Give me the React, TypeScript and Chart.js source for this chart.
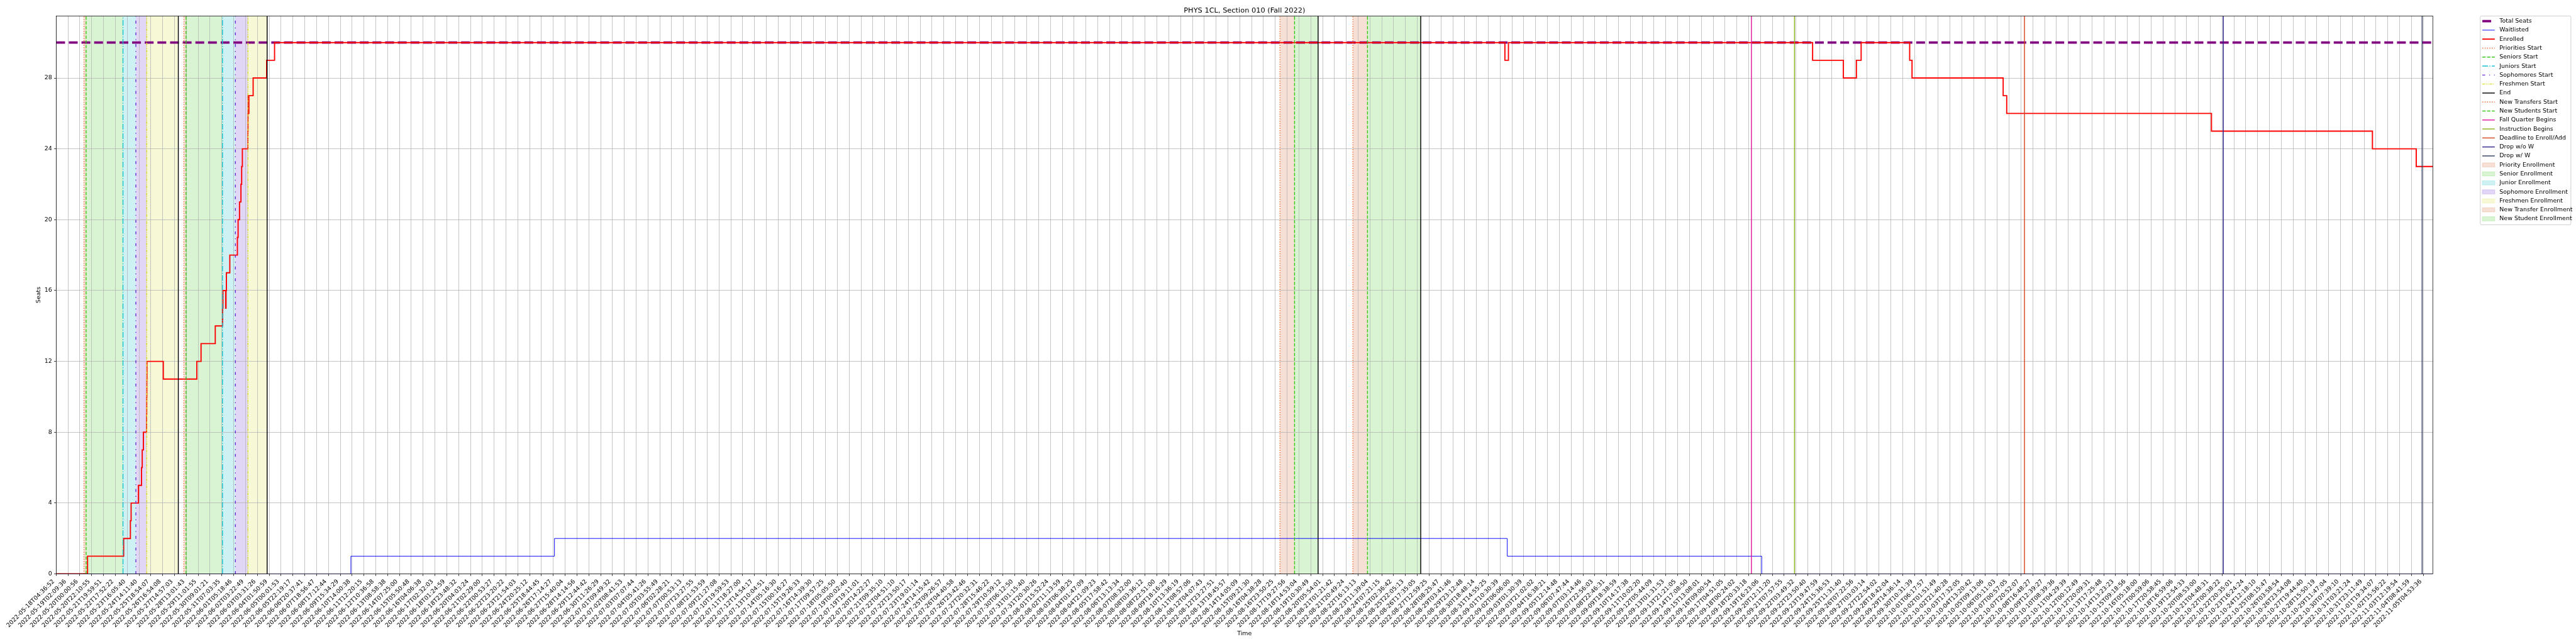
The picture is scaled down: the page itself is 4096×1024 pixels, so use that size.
import React, { useEffect, useRef } from "react";
import { Chart, registerables } from "chart.js";

Chart.register(...registerables);

const SCALE = 0.682;
const px = (v: number) => v * SCALE;
const FONT = "'DejaVu Sans', 'Liberation Sans', sans-serif";
const CANVAS_W = 4096;
const CANVAS_H = 1024;

const chartTitle = "PHYS 1CL, Section 010 (Fall 2022)";
const xAxisTitle = "Time";
const yAxisTitle = "Seats";

// tick labels (one per x tick, x tick k sits at position k)
const tickLabels = [
  "2022-05-18T04:36:52", "2022-05-19T02:09:36", "2022-05-20T00:00:56", "2022-05-20T22:10:55",
  "2022-05-21T19:59:51", "2022-05-22T17:52:22", "2022-05-23T16:05:40", "2022-05-24T14:11:40",
  "2022-05-25T18:54:07", "2022-05-26T16:54:08", "2022-05-27T14:57:03", "2022-05-28T13:01:43",
  "2022-05-29T11:01:55", "2022-05-30T09:01:21", "2022-05-31T07:03:35", "2022-06-01T05:18:46",
  "2022-06-02T03:22:49", "2022-06-03T03:31:26", "2022-06-04T01:50:59", "2022-06-05T00:01:53",
  "2022-06-05T22:19:17", "2022-06-06T20:37:41", "2022-06-07T18:56:47", "2022-06-08T17:12:44",
  "2022-06-09T15:34:29", "2022-06-10T14:00:38", "2022-06-11T12:20:15", "2022-06-12T10:36:58",
  "2022-06-13T08:58:38", "2022-06-14T07:25:00", "2022-06-15T05:50:48", "2022-06-16T04:06:38",
  "2022-06-17T02:32:03", "2022-06-18T01:24:59", "2022-06-18T23:48:32", "2022-06-20T04:03:24",
  "2022-06-21T02:29:00", "2022-06-22T00:53:27", "2022-06-22T23:20:22", "2022-06-23T21:54:03",
  "2022-06-24T20:25:12", "2022-06-25T18:44:45", "2022-06-26T17:14:27", "2022-06-27T15:40:04",
  "2022-06-28T14:14:56", "2022-06-29T12:44:42", "2022-06-30T11:26:29", "2022-07-01T09:49:32",
  "2022-07-02T08:41:53", "2022-07-03T07:07:44", "2022-07-04T05:41:26", "2022-07-05T03:55:49",
  "2022-07-06T02:28:21", "2022-07-07T00:53:13", "2022-07-07T23:27:55", "2022-07-08T21:53:59",
  "2022-07-09T21:27:08", "2022-07-10T19:59:53", "2022-07-11T18:27:00", "2022-07-12T14:54:17",
  "2022-07-13T10:04:51", "2022-07-14T05:16:30", "2022-07-15T00:16:27", "2022-07-15T19:26:33",
  "2022-07-16T14:39:30", "2022-07-17T09:57:25", "2022-07-18T05:05:50", "2022-07-19T00:02:40",
  "2022-07-19T19:11:01", "2022-07-20T14:22:27", "2022-07-21T09:35:10", "2022-07-22T04:51:10",
  "2022-07-22T23:50:17", "2022-07-23T19:01:14", "2022-07-24T14:15:42", "2022-07-25T09:26:57",
  "2022-07-26T04:40:58", "2022-07-26T23:42:46", "2022-07-27T20:32:31", "2022-07-28T15:46:22",
  "2022-07-29T10:59:12", "2022-07-30T06:12:50", "2022-07-31T01:15:40", "2022-07-31T20:30:26",
  "2022-08-01T15:52:24", "2022-08-02T11:13:59", "2022-08-03T06:38:25", "2022-08-04T01:47:09",
  "2022-08-04T21:09:23", "2022-08-05T17:58:42", "2022-08-06T13:13:34", "2022-08-07T08:32:00",
  "2022-08-08T03:36:12", "2022-08-08T22:51:00", "2022-08-09T18:16:29", "2022-08-10T13:36:19",
  "2022-08-11T08:57:06", "2022-08-12T04:07:43", "2022-08-12T23:27:51", "2022-08-13T18:45:57",
  "2022-08-14T14:05:09", "2022-08-15T09:21:30", "2022-08-16T04:38:28", "2022-08-16T23:50:25",
  "2022-08-17T19:27:56", "2022-08-18T14:53:04", "2022-08-19T10:30:49", "2022-08-20T05:54:01",
  "2022-08-21T01:21:42", "2022-08-21T20:49:24", "2022-08-22T16:13:13", "2022-08-23T11:39:04",
  "2022-08-24T07:21:15", "2022-08-25T02:36:42", "2022-08-25T22:05:13", "2022-08-26T17:35:05",
  "2022-08-27T12:59:25", "2022-08-28T08:25:47", "2022-08-29T03:41:46", "2022-08-29T23:12:48",
  "2022-08-30T18:48:14", "2022-08-31T14:55:25", "2022-09-01T10:30:39", "2022-09-02T06:06:00",
  "2022-09-03T01:30:39", "2022-09-03T21:02:02", "2022-09-04T16:38:21", "2022-09-05T12:14:48",
  "2022-09-06T07:47:44", "2022-09-07T03:14:46", "2022-09-07T22:56:03", "2022-09-08T22:46:31",
  "2022-09-09T18:38:59", "2022-09-10T14:17:38", "2022-09-11T10:02:20", "2022-09-12T05:44:09",
  "2022-09-13T01:31:53", "2022-09-13T21:21:05", "2022-09-14T17:08:50", "2022-09-15T13:08:01",
  "2022-09-16T09:00:54", "2022-09-17T04:51:05", "2022-09-18T00:24:02", "2022-09-18T20:33:18",
  "2022-09-19T16:23:06", "2022-09-20T12:11:20", "2022-09-21T07:57:55", "2022-09-22T03:49:32",
  "2022-09-22T23:50:40", "2022-09-23T19:47:59", "2022-09-24T15:36:53", "2022-09-25T11:31:40",
  "2022-09-26T07:22:56", "2022-09-27T03:03:14", "2022-09-27T22:54:02", "2022-09-28T18:42:04",
  "2022-09-29T14:36:14", "2022-09-30T10:31:39", "2022-10-01T06:17:57", "2022-10-02T01:51:49",
  "2022-10-02T21:40:28", "2022-10-03T17:32:05", "2022-10-04T13:20:42", "2022-10-05T09:13:06",
  "2022-10-06T05:11:03", "2022-10-07T00:57:05", "2022-10-07T20:52:07", "2022-10-08T16:48:27",
  "2022-10-09T12:39:27", "2022-10-10T08:39:36", "2022-10-11T04:29:39", "2022-10-12T00:12:49",
  "2022-10-12T20:09:31", "2022-10-13T17:25:48", "2022-10-14T13:23:23", "2022-10-15T09:18:56",
  "2022-10-16T05:18:00", "2022-10-17T00:59:06", "2022-10-17T20:58:45", "2022-10-18T16:59:06",
  "2022-10-19T12:54:33", "2022-10-20T08:53:00", "2022-10-21T04:48:31", "2022-10-22T00:38:22",
  "2022-10-22T20:35:01", "2022-10-23T16:24:24", "2022-10-24T12:18:10", "2022-10-25T08:15:47",
  "2022-10-26T03:58:54", "2022-10-26T23:54:08", "2022-10-27T19:44:40", "2022-10-28T15:50:19",
  "2022-10-29T11:47:04", "2022-10-30T07:39:10", "2022-10-31T03:21:24", "2022-10-31T23:11:49",
  "2022-11-01T19:34:07", "2022-11-02T15:56:22", "2022-11-03T12:19:54", "2022-11-04T08:41:59",
  "2022-11-05T04:53:36",
];

const xEnd = 200.8;
const yTop = 31.5;
const yTickValues = [0, 4, 8, 12, 16, 20, 24, 28];

// series (x in tick positions; each value holds until the next x)
const totalSeatsX = [0, 200.8];
const totalSeatsY = [30, 30];

const waitlistX = [0, 24.9, 42.1, 122.6, 144.1, 200.8];
const waitlistY = [0, 1, 2, 1, 0, 0];

const enrolledX = [
  0, 2.65, 5.7, 6.27, 6.33, 6.95, 7.21, 7.27, 7.37, 7.64, 7.65, 7.66, 7.67, 9.05, 11.88,
  12.24, 13.44, 14.06, 14.09, 14.32, 14.35, 14.38, 14.67, 15.31, 15.37, 15.49, 15.61, 15.67,
  15.73, 16.2, 16.21, 16.22, 16.25, 16.28, 16.64, 17.78, 18.45, 122.4, 122.7, 148.4, 151.0,
  152.1, 152.5, 156.6, 156.8, 164.5, 164.8, 182.1, 195.7, 199.4, 200.8,
];
const enrolledY = [
  0, 1, 2, 3, 4, 5, 6, 7, 8, 9, 10, 11, 12, 11, 12,
  13, 14, 15, 16, 15, 16, 17, 18, 19, 20, 21, 22, 23,
  24, 25, 26, 27, 26, 27, 28, 29, 30, 29, 30, 29, 28,
  29, 30, 29, 28, 27, 26, 25, 24, 23, 23,
];

// event markers (x in tick positions)
const prioritiesStart = [2.345, 10.79];
const seniorsStart = [2.526, 10.971];
const juniorsStart = [5.643, 14.052];
const sophomoresStart = [6.731, 15.14];
const freshmenStart = [7.648, 16.202];
const endMarks = [10.319, 17.822, 106.62, 115.29];
const newTransfersStart = [103.4, 109.56];
const newStudentsStart = [104.63, 110.79];
const fallQuarterBegins = [143.23];
const instructionBegins = [146.87];
const deadlineToAdd = [166.3];
const dropNoW = [183.1];
const dropWithW = [199.9];

// colors
const C = {
  total: "#800080",
  wait: "#0000ff",
  enrolled: "#ff0000",
  priority: "#ee6a30",
  senior: "#3cc81a",
  junior: "#14c2d0",
  sophomore: "#6a2ed8",
  freshmen: "#dcdc2c",
  end: "#000000",
  fall: "#e0139c",
  instruction: "#8cb41a",
  deadline: "#d4461e",
  dropNoW: "#2e248c",
  dropW: "#2f3b5c",
};
const SHADE = {
  priority: "rgba(210,100,45,0.2)",
  senior: "rgba(60,200,30,0.2)",
  junior: "rgba(10,190,200,0.2)",
  sophomore: "rgba(110,50,210,0.2)",
  freshmen: "rgba(215,225,50,0.2)",
};

const EV_LW = px(2.08);
const DOTTED = [px(2.08), px(3.44)];
const DASHED = [px(7.71), px(3.33)];
const DASHDOT = [px(13.3), px(3.33), px(2.08), px(3.33)];
const SOPH_DASH = [px(6.7), px(9.3), px(2.0), px(9.3)];
const FRESH_DASH = [px(6.25), px(2.08), px(2.08), px(2.08), px(2.08), px(2.08)];

type LineSpec = { xs: number[]; color: string; dash: number[]; width: number };
const eventLines: LineSpec[] = [
  { xs: prioritiesStart, color: C.priority, dash: DOTTED, width: EV_LW },
  { xs: seniorsStart, color: C.senior, dash: DASHED, width: EV_LW },
  { xs: juniorsStart, color: C.junior, dash: DASHDOT, width: EV_LW },
  { xs: sophomoresStart, color: C.sophomore, dash: SOPH_DASH, width: EV_LW },
  { xs: freshmenStart, color: C.freshmen, dash: FRESH_DASH, width: EV_LW },
  { xs: endMarks, color: C.end, dash: [], width: EV_LW },
  { xs: newTransfersStart, color: C.priority, dash: DOTTED, width: EV_LW },
  { xs: newStudentsStart, color: C.senior, dash: DASHED, width: EV_LW },
  { xs: fallQuarterBegins, color: C.fall, dash: [], width: EV_LW },
  { xs: instructionBegins, color: C.instruction, dash: [], width: EV_LW },
  { xs: deadlineToAdd, color: C.deadline, dash: [], width: EV_LW },
  { xs: dropNoW, color: C.dropNoW, dash: [], width: EV_LW },
  { xs: dropWithW, color: C.dropW, dash: [], width: EV_LW },
];

const spans: { from: number; to: number; color: string }[] = [];
prioritiesStart.forEach((s, i) => spans.push({ from: s, to: seniorsStart[i], color: SHADE.priority }));
seniorsStart.forEach((s, i) => spans.push({ from: s, to: juniorsStart[i], color: SHADE.senior }));
juniorsStart.forEach((s, i) => spans.push({ from: s, to: sophomoresStart[i], color: SHADE.junior }));
sophomoresStart.forEach((s, i) => spans.push({ from: s, to: freshmenStart[i], color: SHADE.sophomore }));
freshmenStart.forEach((s, i) => spans.push({ from: s, to: endMarks[i], color: SHADE.freshmen }));
newTransfersStart.forEach((s, i) => spans.push({ from: s, to: newStudentsStart[i], color: SHADE.priority }));
newStudentsStart.forEach((s, i) => spans.push({ from: s, to: endMarks[i + 2], color: SHADE.senior }));

type LegendItem = { label: string; kind: "line" | "patch"; color: string; width?: number; dash?: number[] };
const legendItems: LegendItem[] = [
  { label: "Total Seats", kind: "line", color: C.total, width: px(5.56), dash: [px(20.6), px(8.9)] },
  { label: "Waitlisted", kind: "line", color: C.wait, width: px(1.39), dash: [] },
  { label: "Enrolled", kind: "line", color: C.enrolled, width: px(2.78), dash: [] },
  { label: "Priorities Start", kind: "line", color: C.priority, width: EV_LW, dash: DOTTED },
  { label: "Seniors Start", kind: "line", color: C.senior, width: EV_LW, dash: DASHED },
  { label: "Juniors Start", kind: "line", color: C.junior, width: EV_LW, dash: DASHDOT },
  { label: "Sophomores Start", kind: "line", color: C.sophomore, width: EV_LW, dash: SOPH_DASH },
  { label: "Freshmen Start", kind: "line", color: C.freshmen, width: EV_LW, dash: FRESH_DASH },
  { label: "End", kind: "line", color: C.end, width: EV_LW, dash: [] },
  { label: "New Transfers Start", kind: "line", color: C.priority, width: EV_LW, dash: DOTTED },
  { label: "New Students Start", kind: "line", color: C.senior, width: EV_LW, dash: DASHED },
  { label: "Fall Quarter Begins", kind: "line", color: C.fall, width: EV_LW, dash: [] },
  { label: "Instruction Begins", kind: "line", color: C.instruction, width: EV_LW, dash: [] },
  { label: "Deadline to Enroll/Add", kind: "line", color: C.deadline, width: EV_LW, dash: [] },
  { label: "Drop w/o W", kind: "line", color: C.dropNoW, width: EV_LW, dash: [] },
  { label: "Drop w/ W", kind: "line", color: C.dropW, width: EV_LW, dash: [] },
  { label: "Priority Enrollment", kind: "patch", color: SHADE.priority },
  { label: "Senior Enrollment", kind: "patch", color: SHADE.senior },
  { label: "Junior Enrollment", kind: "patch", color: SHADE.junior },
  { label: "Sophomore Enrollment", kind: "patch", color: SHADE.sophomore },
  { label: "Freshmen Enrollment", kind: "patch", color: SHADE.freshmen },
  { label: "New Transfer Enrollment", kind: "patch", color: SHADE.priority },
  { label: "New Student Enrollment", kind: "patch", color: SHADE.senior },
];

const overlayPlugin = {
  id: "overlay",
  beforeDraw(chart: any) {
    const { ctx, chartArea } = chart;
    const xs = chart.scales.x;
    ctx.save();
    ctx.fillStyle = "#ffffff";
    ctx.fillRect(0, 0, chart.width, chart.height);
    for (const s of spans) {
      const a = xs.getPixelForValue(s.from);
      const b = xs.getPixelForValue(s.to);
      ctx.fillStyle = s.color;
      ctx.fillRect(a, chartArea.top, b - a, chartArea.bottom - chartArea.top);
    }
    ctx.restore();
  },
  afterDatasetsDraw(chart: any) {
    const { ctx, chartArea } = chart;
    const xs = chart.scales.x;
    ctx.save();
    ctx.beginPath();
    ctx.rect(chartArea.left, chartArea.top, chartArea.right - chartArea.left, chartArea.bottom - chartArea.top);
    ctx.clip();
    for (const l of eventLines) {
      ctx.strokeStyle = l.color;
      ctx.lineWidth = l.width;
      ctx.setLineDash(l.dash);
      ctx.lineCap = "butt";
      for (const v of l.xs) {
        const x = xs.getPixelForValue(v);
        ctx.beginPath();
        ctx.moveTo(x, chartArea.bottom);
        ctx.lineTo(x, chartArea.top);
        ctx.stroke();
      }
    }
    ctx.restore();
  },
  afterDraw(chart: any) {
    const { ctx, chartArea } = chart;
    ctx.save();
    // frame
    ctx.setLineDash([]);
    ctx.strokeStyle = "#000000";
    ctx.lineWidth = px(1.11);
    ctx.strokeRect(chartArea.left, chartArea.top, chartArea.right - chartArea.left, chartArea.bottom - chartArea.top);
    const midX = (chartArea.left + chartArea.right) / 2;
    // title
    ctx.fillStyle = "#000000";
    ctx.font = `${px(16.67)}px ${FONT}`;
    ctx.textAlign = "center";
    ctx.textBaseline = "alphabetic";
    ctx.fillText(chartTitle, midX, chartArea.top - px(8.33));
    // axis titles
    ctx.font = `${px(13.89)}px ${FONT}`;
    ctx.textBaseline = "middle";
    ctx.fillText(xAxisTitle, midX, px(1477));
    ctx.save();
    ctx.translate(px(90), (chartArea.top + chartArea.bottom) / 2);
    ctx.rotate(-Math.PI / 2);
    ctx.fillText(yAxisTitle, 0, 0);
    ctx.restore();
    // legend
    const lx = px(5782.7);
    const ly = px(37.3);
    const lw = px(5994 - 5782.7);
    const lh = px(524 - 37.3);
    ctx.beginPath();
    const r = px(2.8);
    ctx.moveTo(lx + r, ly);
    ctx.lineTo(lx + lw - r, ly);
    ctx.quadraticCurveTo(lx + lw, ly, lx + lw, ly + r);
    ctx.lineTo(lx + lw, ly + lh - r);
    ctx.quadraticCurveTo(lx + lw, ly + lh, lx + lw - r, ly + lh);
    ctx.lineTo(lx + r, ly + lh);
    ctx.quadraticCurveTo(lx, ly + lh, lx, ly + lh - r);
    ctx.lineTo(lx, ly + r);
    ctx.quadraticCurveTo(lx, ly, lx + r, ly);
    ctx.closePath();
    ctx.fillStyle = "rgba(255,255,255,0.8)";
    ctx.fill();
    ctx.strokeStyle = "#cccccc";
    ctx.lineWidth = px(1.39);
    ctx.stroke();
    const hx0 = px(5787.5);
    const hx1 = px(5816.5);
    ctx.font = `${px(13.89)}px ${FONT}`;
    ctx.textAlign = "left";
    ctx.textBaseline = "middle";
    legendItems.forEach((it, i) => {
      const cy = px(49.3 + i * 20.95);
      if (it.kind === "line") {
        ctx.strokeStyle = it.color;
        ctx.lineWidth = it.width || 1;
        ctx.setLineDash(it.dash || []);
        ctx.lineCap = "butt";
        ctx.beginPath();
        ctx.moveTo(hx0, cy);
        ctx.lineTo(hx1, cy);
        ctx.stroke();
        ctx.setLineDash([]);
      } else {
        const h = px(9.7);
        ctx.fillStyle = it.color;
        ctx.fillRect(hx0, cy - h / 2, hx1 - hx0, h);
        ctx.strokeStyle = it.color;
        ctx.lineWidth = px(1.39);
        ctx.strokeRect(hx0, cy - h / 2, hx1 - hx0, h);
      }
      ctx.fillStyle = "#000000";
      ctx.fillText(it.label, px(5827.3), cy);
    });
    ctx.restore();
  },
};

export default function App() {
  const ref = useRef<HTMLCanvasElement | null>(null);
  useEffect(() => {
    document.body.style.margin = "0";
    document.body.style.overflow = "hidden";
    const canvas = ref.current;
    if (!canvas) return;
    Chart.defaults.font.family = FONT;
    const toPts = (xs: number[], ys: number[]) => xs.map((x, i) => ({ x, y: ys[i] }));
    const chart = new Chart(canvas, {
      type: "line",
      data: {
        datasets: [
          {
            label: "Enrolled",
            data: toPts(enrolledX, enrolledY),
            borderColor: C.enrolled,
            borderWidth: px(2.78),
            stepped: "before",
            pointRadius: 0,
            fill: false,
          },
          {
            label: "Waitlisted",
            data: toPts(waitlistX, waitlistY),
            borderColor: C.wait,
            borderWidth: px(1.39),
            stepped: "before",
            pointRadius: 0,
            fill: false,
          },
          {
            label: "Total Seats",
            data: toPts(totalSeatsX, totalSeatsY),
            borderColor: C.total,
            borderWidth: px(5.56),
            borderDash: [px(20.6), px(8.9)],
            pointRadius: 0,
            fill: false,
          },
        ],
      },
      options: {
        animation: false,
        responsive: false,
        devicePixelRatio: 1,
        layout: {
          padding: { left: 0, top: px(37.3), right: CANVAS_W - px(5672), bottom: 0 },
        },
        plugins: {
          legend: { display: false },
          tooltip: { enabled: false },
          title: { display: false },
        },
        scales: {
          x: {
            type: "linear",
            min: 0,
            max: xEnd,
            afterBuildTicks: (s: any) => {
              s.ticks = tickLabels.map((_, i) => ({ value: i }));
            },
            afterFit: (s: any) => {
              s.height = CANVAS_H - px(1338);
            },
            ticks: {
              autoSkip: false,
              maxRotation: 45,
              minRotation: 45,
              padding: px(4.86),
              labelOffset: -px(6),
              color: "#000000",
              font: { family: FONT, size: px(13.89) },
              callback: (v: any) => tickLabels[Math.round(Number(v))] ?? "",
            },
            grid: {
              color: "#b0b0b0",
              lineWidth: px(1.11),
              tickColor: "#000000",
              tickLength: px(4.86),
              tickWidth: px(1.11),
            },
            border: { display: false },
          },
          y: {
            type: "linear",
            min: 0,
            max: yTop,
            afterBuildTicks: (s: any) => {
              s.ticks = yTickValues.map((v) => ({ value: v }));
            },
            afterFit: (s: any) => {
              s.width = px(131);
            },
            ticks: {
              padding: px(4.86),
              color: "#000000",
              font: { family: FONT, size: px(13.89) },
              callback: (v: any) => String(v),
            },
            grid: {
              color: "#b0b0b0",
              lineWidth: px(1.11),
              tickColor: "#000000",
              tickLength: px(4.86),
              tickWidth: px(1.11),
            },
            border: { display: false },
          },
        },
      },
      plugins: [overlayPlugin],
    } as any);
    return () => chart.destroy();
  }, []);
  return (
    <canvas
      ref={ref}
      width={CANVAS_W}
      height={CANVAS_H}
      style={{ display: "block", width: CANVAS_W + "px", height: CANVAS_H + "px" }}
    />
  );
}
